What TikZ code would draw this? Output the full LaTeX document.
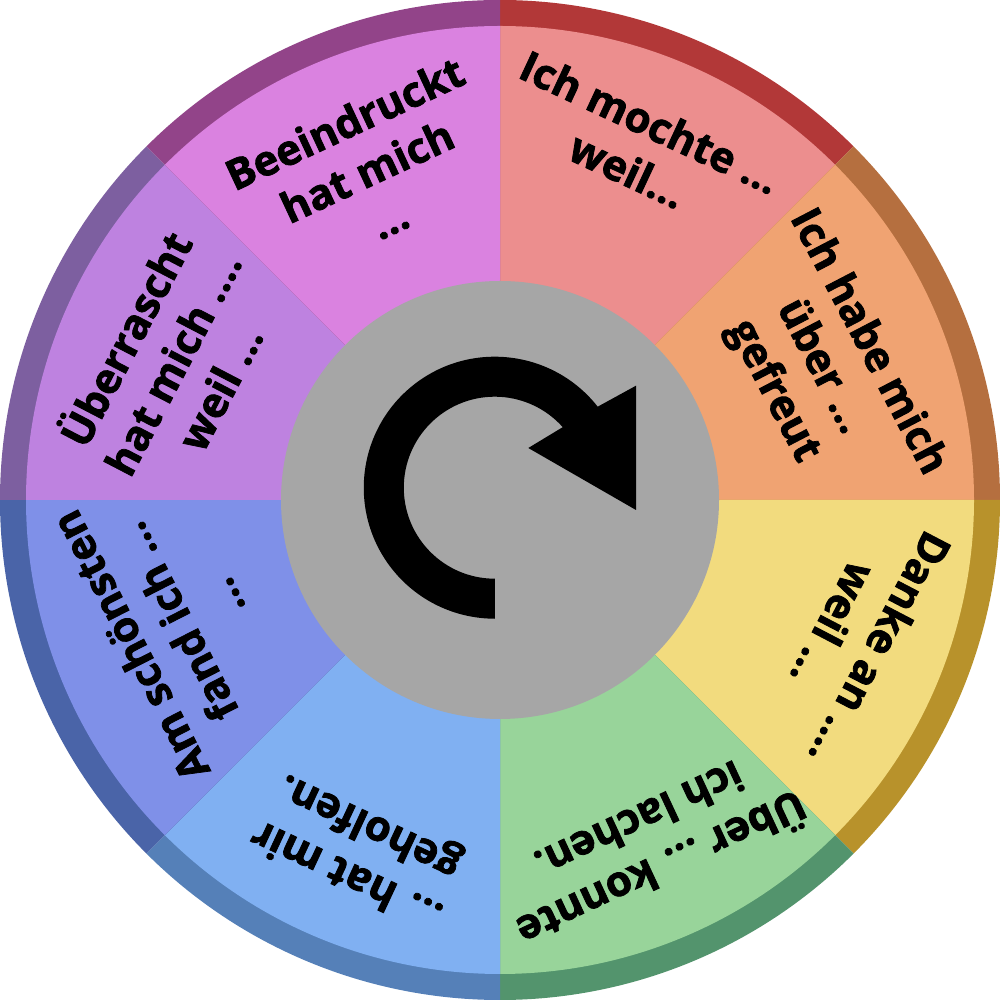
\documentclass[tikz,border=0pt]{standalone}
\usepackage{fontspec}
\setmainfont{Open Sans}[BoldFeatures={FakeBold=1.8}]
\definecolor{fa}{HTML}{EC8E8E}\definecolor{ra}{HTML}{B23838}
\definecolor{fb}{HTML}{F0A372}\definecolor{rb}{HTML}{B56F3F}
\definecolor{fc}{HTML}{F2DB7E}\definecolor{rc}{HTML}{B8922B}
\definecolor{fd}{HTML}{98D49A}\definecolor{rd}{HTML}{53946D}
\definecolor{fe}{HTML}{80B0F2}\definecolor{re}{HTML}{5580B8}
\definecolor{ff}{HTML}{7F90E8}\definecolor{rf}{HTML}{4A64A8}
\definecolor{fg}{HTML}{BE82E0}\definecolor{rg}{HTML}{7D5FA0}
\definecolor{fh}{HTML}{DA82E0}\definecolor{rh}{HTML}{924489}
\definecolor{hubgray}{HTML}{A6A6A6}
\tikzset{wedgelabel/.style={align=center,font=\fontsize{42}{53}\selectfont\bfseries,text=black,inner sep=0pt}}
\newcommand{\sectorpair}[3]{%
  \fill[#3] (500,500) -- ++(#1:500) arc[start angle=#1,end angle=#1-45,radius=500] -- cycle;
  \fill[#2] (500,500) -- ++(#1:474) arc[start angle=#1,end angle=#1-45,radius=474] -- cycle;}
\begin{document}
\begin{tikzpicture}[x=1pt,y=1pt]
\useasboundingbox (0,0) rectangle (1000,1000);
\sectorpair{90}{fa}{ra}
\sectorpair{45}{fb}{rb}
\sectorpair{0}{fc}{rc}
\sectorpair{-45}{fd}{rd}
\sectorpair{-90}{fe}{re}
\sectorpair{-135}{ff}{rf}
\sectorpair{-180}{fg}{rg}
\sectorpair{-225}{fh}{rh}
\fill[hubgray] (500,500) circle[radius=219];
\fill[black] (494.8,381) -- (494.8,421.3)
  arc[start angle=270,end angle=41.7,radius=91] -- (528.3,552) -- (636,490) -- (636,614.3) -- (597.7,593.3)
  arc[start angle=38.2,end angle=270,radius=131] -- cycle;
\node[wedgelabel,rotate=-25] (l1) at (639,854) {Ich mochte ...\\weil...};
\node[wedgelabel,rotate=-62.5] (l2) at (820,633) {Ich habe mich\\über ...\\gefreut};
\node[wedgelabel,rotate=-117.5] (l3) at (857,363) {Danke an ....\\weil ...};
\node[wedgelabel,rotate=-155] (l4) at (652,152) {Über ... konnte\\ich lachen.};
\node[wedgelabel,rotate=155] (l5) at (359,151) {... hat mir\\geholfen.};
\node[wedgelabel,rotate=117] (l6) at (177,378) {Am schönsten\\fand ich ...\\...};
\node[wedgelabel,rotate=62.5] (l7) at (170,638) {Überrascht\\hat mich ....\\weil ...};
\node[wedgelabel,rotate=25] (l8) at (367,829) {Beeindruckt\\hat mich\\...};
\end{tikzpicture}
\end{document}
